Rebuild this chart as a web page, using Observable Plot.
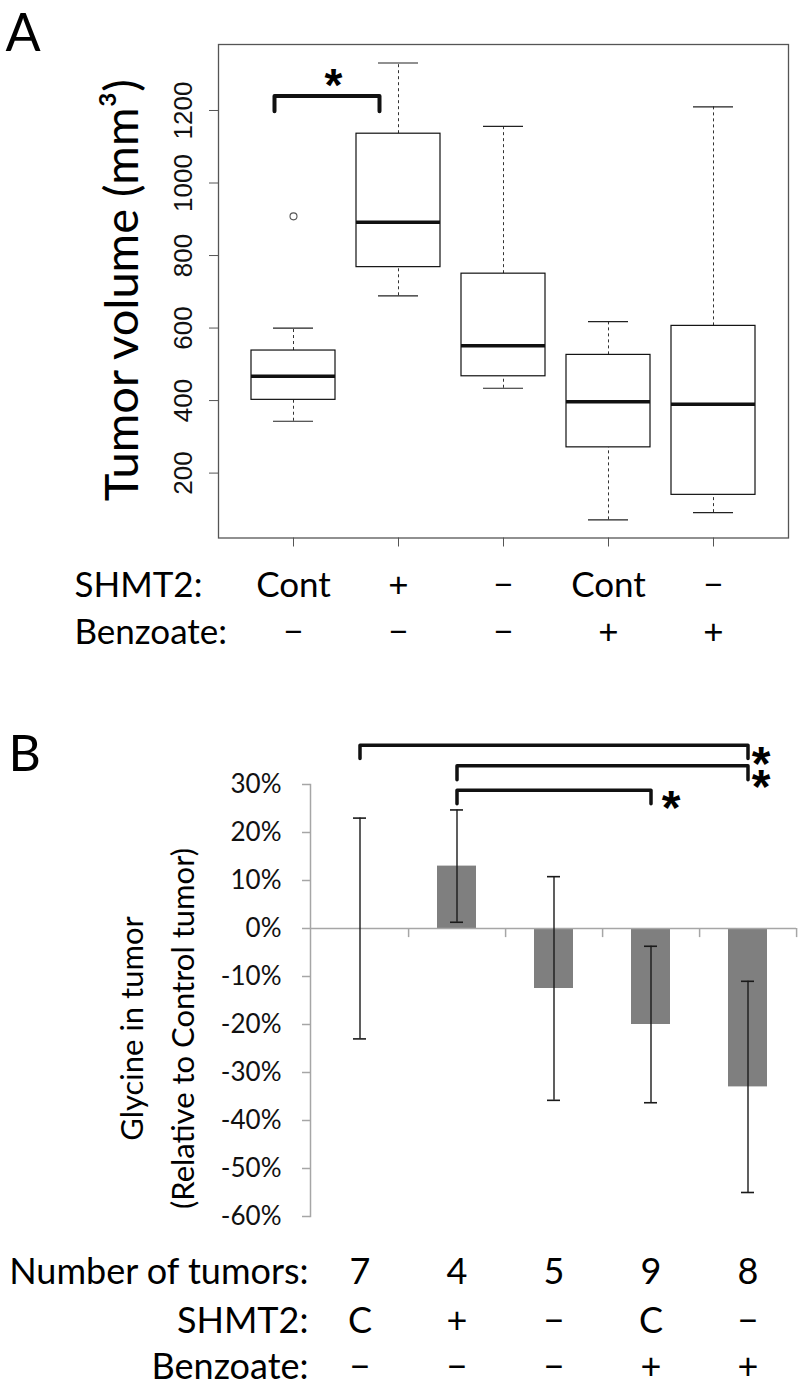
<!DOCTYPE html>
<html><head><meta charset="utf-8">
<script src="https://cdn.jsdelivr.net/npm/d3@7"></script>
<script src="https://cdn.jsdelivr.net/npm/@observablehq/plot@0.6"></script>
<style>
html,body{margin:0;padding:0;background:#fff;}
#wrap{position:relative;width:800px;height:1385px;overflow:hidden;background:#fff;}
#a{position:absolute;left:0;top:0;}
#b{position:absolute;left:0;top:660px;}
svg{overflow:visible;}
</style></head>
<body><div id="wrap"><div id="a"></div><div id="b"></div></div>
<script>
// ---------- Panel A data ----------
const groupsA = ["g1", "g2", "g3", "g4", "g5"];
const shmtA = ["Cont", "+", "−", "Cont", "−"];
const benzA = ["−", "−", "−", "+", "+"];
const lowA = [343, 689, 434, 71, 91];
const q1A = [402, 768, 467, 271, 140];
const medA = [467, 892, 551, 397, 390];
const q3A = [538, 1136, 750, 526, 606];
const highA = [600, 1331, 1156, 618, 1210];
const outlierGroupA = ["g1"];
const outlierValA = [908];
const yTicksA = [200, 400, 600, 800, 1000, 1200];
const yDomainA = [21, 1382];
const yLabelA = "Tumor volume (mm³)";
const rowHeadersA = ["SHMT2:", "Benzoate:"];
const sigGroupsA = ["g1", "g2"];
const sigTopA = 1240;
const sigLegA = 1198;
const sigStarA = 1303;

// ---------- Panel B data ----------
const groupsB = ["g1", "g2", "g3", "g4", "g5"];
const nTumorsB = ["7", "4", "5", "9", "8"];
const shmtB = ["C", "+", "−", "C", "−"];
const benzB = ["−", "−", "−", "+", "+"];
const meanB = [0, 13, -12.5, -20, -33];
const errB = [23, 11.7, 23.3, 16.3, 22];
const yTicksB = [30, 20, 10, 0, -10, -20, -30, -40, -50, -60];
const yLabelB = "Glycine in tumor\n(Relative to Control tumor)";
const rowHeadersB = ["Number of tumors:", "SHMT2:", "Benzoate:"];
const bracketFromB = ["g1", "g2", "g2"];
const bracketToB = ["g5", "g5", "g4"];
const bracketTopB = [38.2, 33.9, 28.8];
const bracketLegB = [35.4, 31.0, 26.0];
const starGroupsB = ["g5", "g4"];
const starTextB = ["*\n*", "*"];
const starYB = [31.9, 27.6];

// ---------- tables ----------
const boxes = groupsA.map((g, i) => ({g, lo: lowA[i], q1: q1A[i], med: medA[i], q3: q3A[i], hi: highA[i], shmt: shmtA[i], benz: benzA[i]}));
const outliers = outlierGroupA.map((g, i) => ({g, v: outlierValA[i]}));
const bracketA = [
  {g: sigGroupsA[0], y: sigLegA}, {g: sigGroupsA[0], y: sigTopA},
  {g: sigGroupsA[1], y: sigTopA}, {g: sigGroupsA[1], y: sigLegA}
];
const bars = groupsB.map((g, i) => ({g, m: meanB[i], e: errB[i], n: nTumorsB[i], shmt: shmtB[i], benz: benzB[i]}));
const bracketsB = bracketFromB.flatMap((f, i) => [
  {id: i, g: f, y: bracketLegB[i]}, {id: i, g: f, y: bracketTopB[i]},
  {id: i, g: bracketToB[i], y: bracketTopB[i]}, {id: i, g: bracketToB[i], y: bracketLegB[i]}
]);
const starsB = starGroupsB.map((g, i) => ({g, y: starYB[i], t: starTextB[i]}));

const sans = "Lato";
const rsans = "Liberation Sans";

// ---------- Panel A ----------
const hA = 660, mtA = 44, mbA = 122.5, mlA = 218, mrA = 12;
const plotA = Plot.plot({
  width: 800, height: hA,
  marginTop: mtA, marginBottom: mbA, marginLeft: mlA, marginRight: mrA,
  style: {fontFamily: sans, fontSize: "24px", background: "white", color: "black"},
  x: {type: "band", domain: groupsA, paddingInner: 0.2, paddingOuter: 0.3, axis: null},
  y: {domain: yDomainA, axis: null},
  marks: [
    Plot.frame({stroke: "#555", strokeWidth: 1.3}),
    Plot.axisY(yTicksA, {tickSize: 9, stroke: "#555", tickFormat: () => null, label: null}),
    Plot.text(yTicksA, {y: d => d, text: d => String(d), frameAnchor: "left", rotate: -90, textAnchor: "middle", lineAnchor: "bottom", dx: -27, fontFamily: rsans, fontSize: 26, fill: "#111"}),
    Plot.axisX({tickSize: 9, stroke: "#555", tickFormat: () => null, label: null}),
    Plot.ruleX(boxes, {x: "g", y1: "lo", y2: "q1", stroke: "#333", strokeDasharray: "3,3"}),
    Plot.ruleX(boxes, {x: "g", y1: "q3", y2: "hi", stroke: "#333", strokeDasharray: "3,3"}),
    Plot.tickY(boxes, {x: "g", y: "lo", stroke: "#222", strokeWidth: 1.2, insetLeft: 22, insetRight: 22}),
    Plot.tickY(boxes, {x: "g", y: "hi", stroke: "#222", strokeWidth: 1.2, insetLeft: 22, insetRight: 22}),
    Plot.barY(boxes, {x: "g", y1: "q1", y2: "q3", fill: "white", stroke: "#111", strokeWidth: 1.2}),
    Plot.tickY(boxes, {x: "g", y: "med", stroke: "#111", strokeWidth: 3.5}),
    Plot.dot(outliers, {x: "g", y: "v", r: 3.5, stroke: "#555", fill: "none", strokeWidth: 1.1}),
    Plot.line(bracketA, {x: "g", y: "y", stroke: "#111", strokeWidth: 4, dx: -19, strokeLinejoin: "round"}),
    Plot.text([sigStarA], {x: () => sigGroupsA[1], y: d => d, text: () => "*", dx: -65, dy: 28, lineAnchor: "bottom", fontFamily: rsans, fontWeight: "bold", fontSize: 46}),
    Plot.text([yLabelA], {text: d => d, frameAnchor: "left", rotate: -90, textAnchor: "middle", lineAnchor: "middle", dx: -96, dy: -1, fontSize: 47, fontFamily: sans}),
    Plot.text(["A"], {text: d => d, frameAnchor: "top-left", textAnchor: "start", lineAnchor: "bottom", dx: -213, dy: 6, fontSize: 52, fontFamily: sans}),
    Plot.text(boxes, {x: "g", text: "shmt", frameAnchor: "bottom", lineAnchor: "bottom", dy: 59, fontSize: 35}),
    Plot.text(boxes, {x: "g", text: "benz", frameAnchor: "bottom", lineAnchor: "bottom", dy: 105.5, fontSize: 35}),
    Plot.text([rowHeadersA[0]], {text: d => d, frameAnchor: "bottom-left", textAnchor: "start", lineAnchor: "bottom", dx: -144, dy: 59, fontSize: 35}),
    Plot.text([rowHeadersA[1]], {text: d => d, frameAnchor: "bottom-left", textAnchor: "start", lineAnchor: "bottom", dx: -144, dy: 105.5, fontSize: 35})
  ]
});
document.getElementById("a").appendChild(plotA);

// ---------- Panel B ----------
const hB = 725, mtB = 124, mbB = 169, mlB = 310, mrB = 4;
const stepB = (800 - mlB - mrB) / groupsB.length;
const gray = "#a6a6a6";
const plotB = Plot.plot({
  width: 800, height: hB,
  marginTop: mtB, marginBottom: mbB, marginLeft: mlB, marginRight: mrB,
  style: {fontFamily: sans, fontSize: "26px", background: "white", color: "black"},
  x: {type: "band", domain: groupsB, paddingInner: 0.6, paddingOuter: 0.3, axis: null},
  y: {domain: [-60, 30], axis: null},
  marks: [
    Plot.barY(bars, {x: "g", y: "m", fill: "#7f7f7f"}),
    Plot.frame({anchor: "left", stroke: gray, strokeWidth: 1.5}),
    Plot.axisY(yTicksB, {tickSize: 8, tickPadding: 21, stroke: gray, strokeWidth: 1.5, fill: "#111", tickFormat: d => `${d}%`, fontSize: 26, label: null}),
    Plot.ruleY([0], {stroke: gray, strokeWidth: 1.5}),
    Plot.ruleX(groupsB, {x: d => d, y1: 0, y2: -1.9, dx: stepB / 2, stroke: gray, strokeWidth: 1.5}),
    Plot.ruleX(bars, {x: "g", y1: d => d.m - d.e, y2: d => d.m + d.e, stroke: "#1a1a1a", strokeWidth: 1.4}),
    Plot.tickY(bars, {x: "g", y: d => d.m - d.e, stroke: "#1a1a1a", strokeWidth: 1.6, insetLeft: 13, insetRight: 13}),
    Plot.tickY(bars, {x: "g", y: d => d.m + d.e, stroke: "#1a1a1a", strokeWidth: 1.6, insetLeft: 13, insetRight: 13}),
    Plot.line(bracketsB, {x: "g", y: "y", z: "id", stroke: "#111", strokeWidth: 3.5, strokeLinejoin: "round"}),
    Plot.text(starsB.filter(d => d.g === "g5"), {x: "g", y: "y", text: "t", dx: 13, dy: 28, lineAnchor: "bottom", lineHeight: 0.485, fontFamily: rsans, fontWeight: "bold", fontSize: 48}),
    Plot.text(starsB.filter(d => d.g !== "g5"), {x: "g", y: "y", text: "t", dx: 20, dy: 28, lineAnchor: "bottom", fontFamily: rsans, fontWeight: "bold", fontSize: 48}),
    Plot.text([yLabelB], {text: d => d, frameAnchor: "left", rotate: -90, textAnchor: "middle", lineAnchor: "middle", lineHeight: 1.62, dx: -158, dy: 28, fontSize: 31}),
    Plot.text(["B"], {text: d => d, frameAnchor: "top-left", textAnchor: "start", lineAnchor: "top", dx: -302, dy: -49, fontSize: 50}),
    Plot.text(bars, {x: "g", text: "n", frameAnchor: "bottom", lineAnchor: "bottom", dy: 67, fontSize: 36}),
    Plot.text(bars, {x: "g", text: "shmt", frameAnchor: "bottom", lineAnchor: "bottom", dy: 116, fontSize: 36}),
    Plot.text(bars, {x: "g", text: "benz", frameAnchor: "bottom", lineAnchor: "bottom", dy: 162, fontSize: 36}),
    Plot.text([rowHeadersB[0]], {text: d => d, frameAnchor: "bottom-left", textAnchor: "end", lineAnchor: "bottom", dx: -2, dy: 67, fontSize: 36}),
    Plot.text([rowHeadersB[1]], {text: d => d, frameAnchor: "bottom-left", textAnchor: "end", lineAnchor: "bottom", dx: -2, dy: 116, fontSize: 36}),
    Plot.text([rowHeadersB[2]], {text: d => d, frameAnchor: "bottom-left", textAnchor: "end", lineAnchor: "bottom", dx: -2, dy: 162, fontSize: 36})
  ]
});
document.getElementById("b").appendChild(plotB);
</script>
</body></html>
